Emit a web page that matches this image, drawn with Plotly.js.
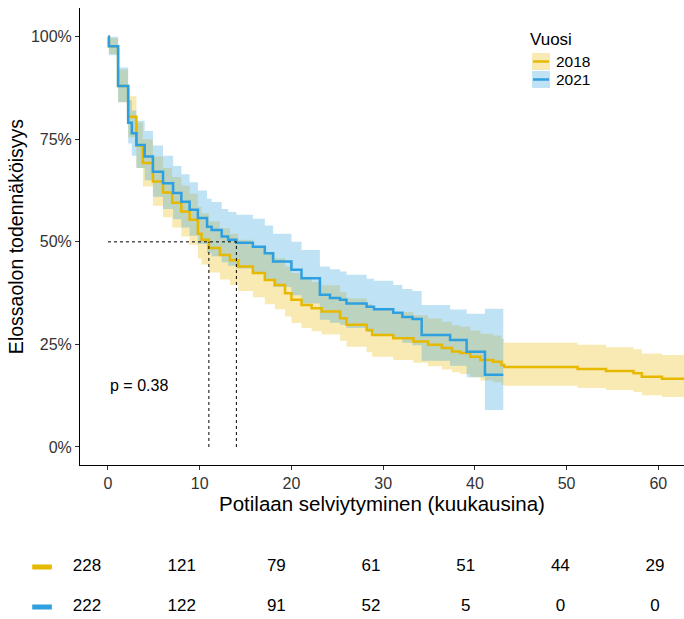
<!DOCTYPE html>
<html>
<head>
<meta charset="utf-8">
<script src="https://cdn.plot.ly/plotly-3.0.1.min.js"></script>
<style>
html,body{margin:0;padding:0;background:#fff;}
#chart{width:684px;height:619px;}
</style>
</head>
<body>
<div id="chart"></div>
<script>
// ---- Data ----
const groups = ['2018', '2021'];
const colors2018 = '#E7B800';
const colors2021 = '#2E9FDF';
const fill2018 = 'rgba(231,184,0,0.3)';
const fill2021 = 'rgba(46,159,223,0.3)';

// 2018 Kaplan-Meier estimate (months, survival %) and confidence band
const t2018  = [0, 0.1, 1.1, 2.2, 3.1, 3.8, 4.9, 6, 7, 8, 8.9, 9.8, 10.2, 11, 12.2, 13.3, 14.2, 15.8, 17.1, 18.2, 19.3, 20, 21.1, 22.2, 23.3, 25.3, 26, 28.2, 28.8, 31.1, 33.3, 34.9, 36.4, 37.5, 38.4, 39.5, 40.6, 42, 42.9, 43.2, 51.2, 54.3, 57.3, 58.2, 60.4, 63];
const s2018  = [100, 97.7, 88, 80.5, 73.5, 69.2, 64.7, 62, 59.5, 57.4, 55.4, 52, 50.5, 48.5, 46.8, 45.5, 44, 42.4, 40.7, 39.5, 37.5, 35.9, 34.6, 33.8, 33, 31.4, 29.8, 28.5, 27.3, 26.5, 25.7, 24.9, 24.1, 23.3, 22.9, 22, 21.2, 20.8, 20, 19.5, 19, 18.5, 18, 17.1, 16.6, 16.6];
const lo2018 = [100, 95.8, 84, 75.5, 68, 63.5, 58.8, 56, 53.5, 51.3, 49.3, 46, 44.5, 42.5, 40.8, 39.5, 38, 36.5, 34.8, 33.6, 31.8, 30.2, 29, 28.2, 27.4, 25.9, 24.4, 23.1, 22, 21.2, 20.5, 19.7, 18.9, 18.2, 17.8, 17, 16.2, 15.8, 15.1, 14.9, 14.4, 13.9, 13.4, 12.6, 12.2, 12.2];
const hi2018 = [100, 99.6, 92, 85.5, 79, 75, 70.8, 68, 65.8, 63.7, 61.7, 58.5, 57, 55, 53.3, 52, 50.5, 49, 47.3, 46, 44, 42.4, 41, 40.2, 39.4, 37.8, 36.2, 34.9, 33.7, 32.9, 32.1, 31.3, 30.5, 29.7, 29.3, 28.4, 27.6, 27.2, 26.3, 25.4, 24.9, 24.3, 23.8, 22.8, 22.4, 22.4];

// 2021 Kaplan-Meier estimate and confidence band
const t2021  = [0, 0.1, 1.1, 2.2, 2.6, 3.1, 4, 4.9, 6, 7.1, 8, 8.9, 9.8, 10.8, 11.3, 12.4, 13.1, 14, 15.8, 17.1, 18, 20, 21.1, 23.1, 24.2, 25.3, 26, 28.2, 29, 31.1, 32.1, 33.2, 34.2, 37.3, 39.1, 41.1, 43.1];
const s2021  = [100, 97.7, 88, 79, 76.5, 73.6, 70.8, 67.1, 64.3, 61.9, 59.8, 57.8, 55.8, 53.7, 52.9, 51.3, 50.5, 49.8, 48.8, 47.2, 45.2, 43.2, 41.1, 37.1, 36.3, 35.9, 35, 34.2, 33.6, 32.7, 31.7, 31.2, 27.3, 26.1, 23.2, 17.6, 17.6];
const lo2021 = [100, 95.5, 84, 74, 71, 68, 65, 61, 58, 55.5, 53.5, 51.5, 49.5, 47.3, 46.5, 45, 44.2, 43.5, 42.5, 41, 39, 37, 35, 31, 30.3, 29.8, 29, 28, 27.3, 26.4, 25.4, 24.8, 21, 19.8, 17, 9, 9];
const hi2021 = [100, 100, 92.5, 84.5, 82, 79.5, 77, 73.5, 71, 68.5, 66.5, 64.5, 62.5, 60.5, 59.7, 58, 57.3, 56.6, 55.6, 54, 52, 50, 48, 44, 43.3, 42.8, 42, 41, 40.5, 39.5, 38.5, 38, 34.6, 33.5, 32.5, 33.7, 33.7];

// Axis ticks
const xTicks = [0, 10, 20, 30, 40, 50, 60];
const yTicks = [0, 25, 50, 75, 100];
const yTickText = ['0%', '25%', '50%', '75%', '100%'];

// Median survival times (months) and the survival level they refer to
const medians = [11, 14];
const medianLevel = 50;

// p-value text
const pText = 'p = 0.38';

// Number at risk table
const riskTimes = [0, 10, 20, 30, 40, 50, 60];
const risk2018 = [228, 121, 79, 61, 51, 44, 29];
const risk2021 = [222, 122, 91, 52, 5, 0, 0];
const keyX = -4.75;

// ---- Traces ----
const FONT = 'Liberation Sans, Arial, sans-serif';
function band(t, lo, hi, col, fillcol) {
  return [
    {x: t, y: lo, type: 'scatter', mode: 'lines', line: {shape: 'hv', width: 0, color: col},
     showlegend: false, hoverinfo: 'skip', xaxis: 'x', yaxis: 'y'},
    {x: t, y: hi, type: 'scatter', mode: 'lines', line: {shape: 'hv', width: 0, color: col},
     fill: 'tonexty', fillcolor: fillcol, showlegend: false, hoverinfo: 'skip', xaxis: 'x', yaxis: 'y'}
  ];
}
const traces = [];
traces.push(...band(t2018, lo2018, hi2018, colors2018, fill2018));
traces.push(...band(t2021, lo2021, hi2021, colors2021, fill2021));
traces.push({x: t2018, y: s2018, type: 'scatter', mode: 'lines', name: groups[0], showlegend: false,
  line: {shape: 'hv', width: 2.5, color: colors2018}, xaxis: 'x', yaxis: 'y'});
traces.push({x: t2021, y: s2021, type: 'scatter', mode: 'lines', name: groups[1], showlegend: false,
  line: {shape: 'hv', width: 2.5, color: colors2021}, xaxis: 'x', yaxis: 'y'});

// risk table
traces.push({x: riskTimes, y: riskTimes.map(() => groups[0]), text: risk2018.map(String),
  type: 'scatter', mode: 'text', textfont: {family: FONT, size: 17, color: '#000'},
  showlegend: false, xaxis: 'x2', yaxis: 'y2', cliponaxis: false});
traces.push({x: riskTimes, y: riskTimes.map(() => groups[1]), text: risk2021.map(String),
  type: 'scatter', mode: 'text', textfont: {family: FONT, size: 17, color: '#000'},
  showlegend: false, xaxis: 'x2', yaxis: 'y2', cliponaxis: false});
// colored keys in the table
traces.push({x: [keyX], y: [groups[0]], type: 'scatter', mode: 'markers',
  marker: {symbol: 'line-ew', size: 14, color: colors2018, line: {width: 5, color: colors2018}},
  showlegend: false, xaxis: 'x2', yaxis: 'y2', cliponaxis: false});
traces.push({x: [keyX], y: [groups[1]], type: 'scatter', mode: 'markers',
  marker: {symbol: 'line-ew', size: 14, color: colors2021, line: {width: 5, color: colors2021}},
  showlegend: false, xaxis: 'x2', yaxis: 'y2', cliponaxis: false});

// median reference lines
const dashStyle = {color: '#000', width: 1, dash: '3px,3px'};
const shapes = [];
shapes.push({type: 'line', xref: 'x', yref: 'y', x0: 0, x1: Math.max(...medians), y0: medianLevel, y1: medianLevel, line: dashStyle});
medians.forEach(m => shapes.push({type: 'line', xref: 'x', yref: 'y', x0: m, x1: m, y0: 0, y1: medianLevel, line: dashStyle}));

// custom legend (paper coordinates; plot area = 684 x 611 starting 8px from top)
const W = 684, H = 611, T = 8;
const px = v => v / W;
const py = v => (H + T - v) / H;
const legendItems = [
  {label: groups[0], line: colors2018, fill: fill2018, top: 53},
  {label: groups[1], line: colors2021, fill: fill2021, top: 71}
];
const annotations = [
  {xref: 'x', yref: 'y', x: 0, y: 15, text: pText, showarrow: false, xanchor: 'left', yanchor: 'middle',
   font: {family: FONT, size: 16, color: '#000'}},
  {xref: 'paper', yref: 'paper', x: px(529), y: py(40), text: 'Vuosi', showarrow: false, borderpad: 0,
   xanchor: 'left', yanchor: 'middle', font: {family: FONT, size: 17, color: '#000'}}
];
legendItems.forEach(it => {
  shapes.push({type: 'rect', xref: 'paper', yref: 'paper', x0: px(532), x1: px(550),
    y0: py(it.top), y1: py(it.top + 17), fillcolor: it.fill, line: {width: 0}, layer: 'above'});
  shapes.push({type: 'line', xref: 'paper', yref: 'paper', x0: px(533), x1: px(549),
    y0: py(it.top + 8.5), y1: py(it.top + 8.5), line: {color: it.line, width: 2.5}, layer: 'above'});
  annotations.push({xref: 'paper', yref: 'paper', x: px(555), y: py(it.top + 8.5), text: it.label, borderpad: 0,
    showarrow: false, xanchor: 'left', yanchor: 'middle', font: {family: FONT, size: 15.5, color: '#000'}});
});

const layout = {
  width: 684, height: 619,
  margin: {l: 0, r: 0, t: T, b: 0},
  paper_bgcolor: '#fff', plot_bgcolor: '#fff',
  font: {family: FONT, color: '#000'},
  showlegend: false,
  xaxis: {
    domain: [80 / 684, 1], range: [-3.05, 62.8], anchor: 'y',
    tickmode: 'array', tickvals: xTicks,
    showgrid: false, zeroline: false,
    showline: true, linecolor: '#000', linewidth: 1,
    ticks: 'outside', ticklen: 4, tickcolor: '#333',
    tickfont: {family: FONT, size: 16, color: '#333'},
    title: {text: 'Potilaan selviytyminen (kuukausina)', font: {family: FONT, size: 20.5, color: '#000'}, standoff: 0}
  },
  yaxis: {
    domain: [0.252, 1], range: [-4.4, 107], anchor: 'x',
    tickmode: 'array', tickvals: yTicks, ticktext: yTickText,
    showgrid: false, zeroline: false,
    showline: true, linecolor: '#000', linewidth: 1,
    ticks: 'outside', ticklen: 4, tickcolor: '#333',
    tickfont: {family: FONT, size: 16, color: '#333'},
    title: {text: 'Elossaolon todennäköisyys', font: {family: FONT, size: 19.5, color: '#000'}, standoff: 2}
  },
  xaxis2: {
    domain: [0, 1], range: [-9.19, 63.06], anchor: 'y2',
    visible: false, showgrid: false, zeroline: false
  },
  yaxis2: {
    domain: [0, 80 / 611], range: [-0.3, 1.7], anchor: 'x2',
    type: 'category', categoryarray: [groups[1], groups[0]], categoryorder: 'array',
    visible: false, showgrid: false, zeroline: false
  },
  shapes: shapes,
  annotations: annotations
};

Plotly.newPlot('chart', traces, layout, {displayModeBar: false, staticPlot: true});
</script>
</body>
</html>
